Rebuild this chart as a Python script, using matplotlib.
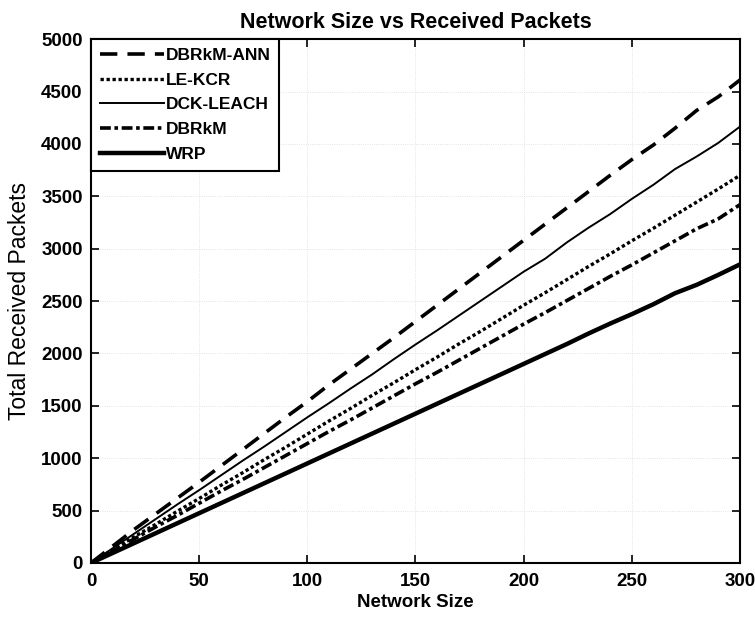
import matplotlib.pyplot as plt

plt.rcParams['font.family'] = ['Liberation Sans', 'DejaVu Sans']

# network size sample points
network_size = list(range(0, 301, 10))

# total received packets per protocol
dbrkm_ann = [0, 160, 320, 470, 620, 770, 925, 1080, 1235, 1390, 1540, 1700, 1850, 2000, 2150, 2305,
             2460, 2615, 2770, 2925, 3080, 3235, 3390, 3545, 3700, 3850, 3990, 4150, 4320, 4450, 4610]
le_kcr = [0, 125, 250, 370, 495, 615, 740, 860, 985, 1105, 1230, 1355, 1475, 1600, 1720, 1845,
          1965, 2090, 2210, 2335, 2460, 2580, 2705, 2830, 2950, 3075, 3195, 3320, 3445, 3570, 3700]
dck_leach = [0, 140, 280, 420, 560, 695, 835, 975, 1110, 1250, 1390, 1525, 1665, 1800, 1945, 2085,
             2220, 2360, 2500, 2640, 2780, 2905, 3060, 3200, 3330, 3475, 3610, 3760, 3880, 4010, 4165]
dbrkm = [0, 115, 230, 345, 455, 570, 685, 795, 910, 1025, 1140, 1255, 1365, 1480, 1595, 1710,
         1820, 1935, 2050, 2165, 2280, 2390, 2505, 2620, 2735, 2845, 2960, 3075, 3190, 3285, 3420]
wrp = [0, 95, 190, 285, 380, 475, 570, 665, 760, 855, 950, 1045, 1140, 1235, 1330, 1425,
       1520, 1615, 1710, 1805, 1900, 1995, 2090, 2190, 2285, 2375, 2470, 2575, 2655, 2750, 2850]

fig = plt.figure(figsize=(7.55, 6.22), dpi=100)
ax = fig.add_axes([0.1205, 0.0949, 0.8595, 0.8421])

ax.plot(network_size, dbrkm_ann, 'k', linestyle=(0, (4.8, 2.8)), linewidth=2.6, label='DBRkM-ANN')
ax.plot(network_size, le_kcr, 'k', linestyle=(0, (1, 0.8)), linewidth=2.4, label='LE-KCR')
ax.plot(network_size, dck_leach, 'k', linestyle='-', linewidth=1.4, label='DCK-LEACH')
ax.plot(network_size, dbrkm, 'k', linestyle=(0, (3, 1, 1, 1)), linewidth=2.6, label='DBRkM')
ax.plot(network_size, wrp, 'k', linestyle='-', linewidth=3.2, label='WRP')

ax.set_xlim(0, 300)
ax.set_ylim(0, 5000)
ax.set_xticks(range(0, 301, 50))
ax.set_yticks(range(0, 5001, 500))
ax.tick_params(direction='in', top=True, right=True, length=6, width=1.2, labelsize=13.5)
ax.tick_params(axis='x', pad=7)
ax.tick_params(axis='y', pad=6)
for lbl in ax.get_xticklabels() + ax.get_yticklabels():
    lbl.set_fontweight('bold')
for sp in ax.spines.values():
    sp.set_linewidth(1.5)

ax.grid(True, linestyle=':', color='#dcdcdc', linewidth=0.6)

ax.set_title('Network Size vs Received Packets', fontsize=15.5, fontweight='bold', pad=8)
ax.set_xlabel('Network Size', fontsize=13.5, fontweight='bold', labelpad=3)
ax.set_ylabel('Total Received Packets', fontsize=16.5, labelpad=7)

leg = ax.legend(loc='upper left', prop={'weight': 'bold', 'size': 12.5}, handlelength=3.7,
                handletextpad=0.1, borderaxespad=0.0, labelspacing=0.55, fancybox=False,
                framealpha=1, edgecolor='black', borderpad=0.5)
leg.get_frame().set_linewidth(1.5)

fig.savefig('out.png', dpi=100)
